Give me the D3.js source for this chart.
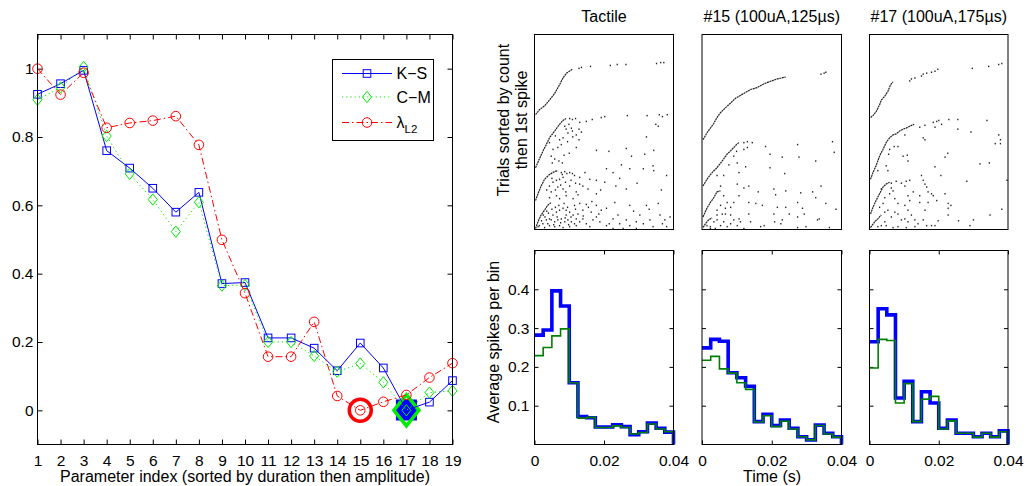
<!DOCTYPE html>
<html>
<head>
<meta charset="utf-8">
<script src="https://cdn.jsdelivr.net/npm/d3@7"></script>
<style>
  body { margin: 0; background: #fff; }
  svg { display: block; font-family: "Liberation Sans", Arial, sans-serif; }
</style>
</head>
<body>
<svg id="chart" width="1028" height="486"></svg>
<script>
// ---------- data: distance per stimulation parameter ----------
const paramIdx = d3.range(1, 20);
const ksVals = [0.925,0.956,0.995,0.760,0.709,0.650,0.580,0.638,0.371,0.374,0.212,0.212,0.182,0.116,0.197,0.124,0.001,0.024,0.087];
const cmVals = [0.909,0.945,1.005,0.803,0.692,0.617,0.523,0.609,0.365,0.367,0.200,0.200,0.159,0.113,0.137,0.082,0.000,0.052,0.057];
const l2Vals = [1.000,0.924,0.988,0.827,0.841,0.848,0.861,0.777,0.499,0.343,0.157,0.157,0.259,0.042,0.000,0.025,0.045,0.096,0.138];
const yTicks = [0, 0.2, 0.4, 0.6, 0.8, 1];

// ---------- data: PSTH, average spikes per bin (16 bins, 0-40 ms) ----------
const tactileBlue  = [0.282,0.295,0.396,0.357,0.159,0.072,0.069,0.045,0.045,0.051,0.046,0.025,0.033,0.055,0.042,0.032];
const tactileGreen = [0.229,0.250,0.280,0.298,0.159,0.068,0.070,0.044,0.044,0.048,0.044,0.027,0.031,0.053,0.040,0.033];
const p15Blue  = [0.249,0.271,0.266,0.185,0.172,0.150,0.059,0.078,0.049,0.063,0.042,0.020,0.012,0.050,0.029,0.020];
const p15Green = [0.217,0.227,0.195,0.184,0.159,0.142,0.058,0.074,0.046,0.060,0.040,0.020,0.012,0.049,0.027,0.019];
const p17Blue  = [0.265,0.350,0.334,0.120,0.163,0.059,0.136,0.107,0.042,0.063,0.029,0.029,0.020,0.029,0.020,0.035];
const p17Green = [0.197,0.271,0.268,0.107,0.157,0.059,0.117,0.124,0.040,0.061,0.029,0.029,0.019,0.029,0.019,0.033];
const histXTicks = [0, 0.02, 0.04];
const histYTicks = [0.1, 0.2, 0.3, 0.4];

// ---------- data: rasters, [time ms, trial] ----------
const tactileFronts = [
  [[0.3,118],[1.4,123],[2.9,127],[4.3,133],[5.8,140],[7.2,149],[8.2,156],[9.2,161],[10.9,165]],
  [[0.3,63],[1.4,72],[2.4,80],[3.4,87],[4.3,94],[5.8,101],[7.2,108],[8.2,112],[9.1,114]],
  [[0.3,29],[1.0,36],[1.9,44],[2.9,51],[4.3,56],[5.8,59],[6.7,60]],
  [[0.3,0],[1.0,7],[1.9,14],[2.9,19],[3.8,24],[4.8,27]]
];
const tactileSpikes = [
  [12.8,166],[13.5,167],[16.1,168],[21.8,169],[23.8,170],[26.3,170],[35.1,171],[36.3,172],[37.2,172],
  [10.1,114],[10.9,113],[11.8,114],[14.9,111],[16.6,113],[19.2,115],[20.2,116],[26.7,117],[32.4,117],[35.9,118],[36.8,116],[38.2,118],
  [8.7,106],[9.1,103],[9.9,108],[10.6,104],[12.8,103],[12.0,97],[8.2,94],[7.7,87],[6.7,84],[5.3,82],[4.3,89],[4.8,75],[5.8,72],[5.1,68],
  [8.0,68],[7.2,92],[9.6,99],[12.8,92],[12.0,84],[17.8,81],[21.4,80],[26.4,83],[32.2,95],[34.9,108],[35.6,106],[27.9,75],[34.3,81],
  [31.7,77],[13.0,110],[10.9,101],[6.0,96],[7.0,70],[9.5,90],[11.0,95],[10.0,78],[13.5,100],[8.5,76],
  [7.7,58],[8.7,59],[9.3,57],[10.1,58],[10.9,57],[11.5,55],[8.2,53],[7.2,51],[6.3,50],[5.3,48],[8.9,48],[4.3,44],[6.7,43],[8.2,41],
  [10.1,44],[13.0,53],[13.9,44],[15.4,41],[17.8,36],[20.7,62],[22.6,58],[25.0,66],[27.4,62],[31.3,62],[34.1,65],[34.3,60],[38.0,55],
  [23.4,44],[26.4,41],[17.8,50],[20.2,48],[12.0,38],[9.1,34],[6.3,34],[4.3,32],[4.8,38],[7.2,31],[11.1,31],[15.9,51],[13.0,46],
  [6.0,40],[7.5,45],[9.0,38],[10.5,50],[11.8,47],[5.0,52],[3.5,40],[8.0,56],[12.5,35],[14.5,58],[19.0,40],[24.5,52],[29.5,47],[36.5,40],
  [1.4,3],[2.4,5],[3.4,9],[4.3,10],[5.3,14],[6.3,17],[7.2,19],[8.2,21],[9.1,19],[10.1,17],[6.7,9],[7.7,10],[8.7,7],[9.6,9],[10.6,7],
  [11.1,14],[12.0,10],[4.3,3],[5.8,2],[7.2,3],[8.2,1],[10.1,2],[12.0,3],[13.0,7],[13.9,10],[14.9,5],[15.9,2],[16.8,9],[17.8,12],
  [18.8,7],[20.7,3],[22.6,10],[23.1,27],[24.5,5],[25.5,0],[26.4,9],[27.4,3],[29.3,7],[30.3,14],[31.3,5],[33.2,9],[34.1,2],[35.6,26],
  [36.1,14],[37.5,9],[38.0,2],[32.2,24],[27.4,24],[20.7,21],[17.8,24],[14.9,25],[13.0,26],[11.5,24],[2.9,1],[3.8,5],[4.8,9],[5.8,7],
  [9.1,14],[13.9,19],[16.3,17],[19.2,19],[22.6,0],[29.3,0],
  [1.0,2],[2.0,8],[3.0,12],[4.0,16],[5.0,20],[6.0,22],[7.0,24],[8.5,26],[9.5,22],[10.5,12],[11.5,5],[12.5,15],[3.5,18],[2.5,14],
  [5.5,4],[6.5,12],[7.5,6],[8.8,11],[9.8,4],[11.8,20],[14.0,13],[15.5,22],[18.5,15],[21.5,5],[24.0,14],[28.5,18],[33.0,20],[36.8,5],
  [39.0,12],[16.5,28]
];
const p15Fronts = [
  [[0.3,92],[1.4,99],[2.4,104],[3.4,109],[4.3,115],[5.3,120],[6.7,125],[8.2,130],[9.6,135],[10.6,137],[12.0,140],[13.9,144],[15.8,146],[17.8,150],[19.2,152],[21.6,155],[24.0,157]],
  [[0.3,44],[1.4,51],[2.9,58],[4.3,63],[5.8,70],[7.2,77],[8.6,82],[9.9,87],[10.6,89]],
  [[0.3,12],[1.4,21],[2.4,27],[3.4,32],[4.3,38],[5.3,39]],
  [[0.3,1],[1.0,5],[1.9,9],[2.9,11]]
];
const p15Spikes = [
  [34.1,160],[35.0,161],[35.5,162],
  [12.0,89],[13.0,90],[14.4,89],[13.0,84],[12.0,82],[9.9,80],[9.1,75],[18.2,85],[19.5,77],[23.0,74],[27.4,87],[27.8,74],[32.6,70],
  [37.4,90],[37.9,79],[7.7,66],[10.1,68],[10.6,58],[12.5,64],[19.5,63],[23.7,57],[6.2,55],[5.3,44],[4.3,55],
  [6.2,34],[7.2,27],[8.2,22],[6.7,21],[5.8,15],[4.3,14],[9.1,27],[10.6,34],[10.1,46],[13.4,44],[12.0,42],[16.1,38],[20.6,41],[21.1,35],
  [24.0,39],[28.3,37],[31.7,38],[32.6,32],[34.1,44],[13.4,27],[15.4,26],[17.3,24],[21.6,22],[24.0,22],[27.4,27],[28.8,21],[20.6,15],
  [25.0,15],[27.4,12],[29.3,15],[35.5,26],[38.4,20],
  [1.4,3],[2.4,2],[3.4,7],[4.3,9],[5.3,3],[6.2,7],[7.2,2],[8.2,5],[9.1,9],[10.1,3],[11.0,7],[4.3,19],[5.3,24],[6.7,15],[8.2,14],
  [13.4,15],[13.9,7],[16.8,2],[17.8,3],[20.8,7],[22.6,5],[23.0,9],[27.4,1],[29.8,2],[33.1,9],[33.6,10],[36.5,1],[2.4,0],[10.6,10],
  [12.0,0],[3.8,0]
];
const p17Fronts = [
  [[0.3,115],[1.0,117],[1.9,121],[2.9,128],[3.4,133],[4.4,137],[5.3,142],[6.1,149],[6.8,152]],
  [[0.3,51],[1.0,58],[1.9,65],[2.9,75],[3.9,82],[4.8,89],[5.8,94],[6.8,97],[7.7,98],[8.7,101],[9.7,103],[10.6,104],[11.6,106],[12.9,108]],
  [[0.3,15],[1.0,22],[1.9,29],[2.9,36],[3.9,43],[4.8,46],[5.8,48]],
  [[0.3,1],[1.5,7],[2.4,10],[3.4,14]]
];
const p17Spikes = [
  [11.6,153],[12.1,155],[13.1,156],[15.0,158],[15.5,160],[16.5,161],[17.9,162],[18.9,163],[19.7,165],[29.7,166],[34.4,168],[37.3,170],[38.2,171],
  [14.5,105],[16.0,107],[18.4,110],[19.4,111],[20.0,112],[18.9,105],[20.8,108],[22.9,113],[25.5,113],[25.5,103],[29.3,100],[33.9,112],
  [37.3,97],[37.8,92],[37.8,88],[36.3,88],[15.5,94],[16.0,92],[10.2,97],[8.2,85],[7.1,85],[5.8,82],[5.5,77],[9.7,75],[10.9,76],[11.1,70],
  [18.9,64],[21.8,74],[22.6,78],[20.6,55],[31.9,67],[34.6,68],[4.8,65],[5.3,60],[2.4,60],
  [6.3,47],[7.7,49],[9.2,47],[10.6,49],[11.6,50],[15.0,55],[15.5,50],[16.0,46],[16.5,43],[16.9,38],[17.9,36],[18.4,34],[6.3,42],[6.8,39],
  [5.8,36],[7.3,31],[11.1,34],[11.6,29],[14.5,34],[14.5,27],[22.7,26],[23.5,24],[22.7,21],[28.1,49],[39.7,50],[38.2,20],[16.9,27],
  [19.4,29],[21.8,36],[8.2,26],[10.2,24],[12.6,38],[4.4,32],[10.2,44],[3.4,41],
  [4.4,17],[5.3,19],[6.3,12],[7.3,17],[8.2,15],[9.2,9],[10.2,10],[11.1,7],[12.1,14],[13.1,9],[14.0,5],[15.5,9],[16.5,3],[17.9,3],
  [18.9,3],[19.8,8],[22.7,14],[25.7,8],[29.0,3],[30.0,9],[34.8,14],[2.4,2],[3.4,3],[4.8,3],[6.8,1],[8.2,2],[10.6,1],[13.1,2],[4.4,7],
  [2.9,22],[3.9,26],[11.1,19],[16.0,19]
];

// ---------- drawing ----------
const FONT = 16;
const TICK = 15.5;
const FAMILY = '"Liberation Sans", Arial, sans-serif';
const svg = d3.select("#chart");

function frame(g, x0, x1, y0, y1) {
  g.append("rect")
    .attr("x", x0).attr("y", y0).attr("width", x1 - x0).attr("height", y1 - y0)
    .attr("fill", "none").attr("stroke", "#000").attr("stroke-width", 1);
}
function tidy(sel) {
  sel.attr("font-size", TICK).attr("font-family", FAMILY);
  sel.select(".domain").remove();
  sel.selectAll(".tick line").attr("stroke", "#000");
  sel.selectAll(".tick text").attr("fill", "#000");
}
const fmt = d => d3.format("~g")(d);

function marker(g, type, cx, cy, s, color, sw, fill) {
  if (type === "square") {
    g.append("rect").attr("x", cx - s).attr("y", cy - s).attr("width", 2 * s).attr("height", 2 * s)
      .attr("fill", fill || "none").attr("stroke", color).attr("stroke-width", sw);
  } else if (type === "diamond") {
    const h = s * 1.25;
    g.append("path").attr("d", `M${cx},${cy - h}L${cx + s},${cy}L${cx},${cy + h}L${cx - s},${cy}Z`)
      .attr("fill", fill || "none").attr("stroke", color).attr("stroke-width", sw);
  } else {
    g.append("circle").attr("cx", cx).attr("cy", cy).attr("r", s)
      .attr("fill", fill || "none").attr("stroke", color).attr("stroke-width", sw);
  }
}

// ===== left panel =====
(function leftPanel() {
  const X0 = 37.5, X1 = 452.5, Y0 = 34.5, Y1 = 444.5;
  const x = d3.scaleLinear().domain([1, 19]).range([X0, X1]);
  const y = d3.scaleLinear().domain([-0.1, 1.1]).range([Y1, Y0]);
  const g = svg.append("g");

  g.append("g").attr("transform", `translate(0,${Y1})`)
    .call(d3.axisBottom(x).tickValues(paramIdx).tickSize(-5).tickPadding(10).tickFormat(d3.format("d"))).call(tidy);
  g.append("g").attr("transform", `translate(0,${Y0})`)
    .call(d3.axisTop(x).tickValues(paramIdx).tickSize(-5).tickFormat("")).call(tidy);
  g.append("g").attr("transform", `translate(${X0},0)`)
    .call(d3.axisLeft(y).tickValues(yTicks).tickSize(-5).tickPadding(4).tickFormat(fmt)).call(tidy);
  g.append("g").attr("transform", `translate(${X1},0)`)
    .call(d3.axisRight(y).tickValues(yTicks).tickSize(-5).tickFormat("")).call(tidy);

  const series = [
    { vals: ksVals, color: "#0000ff", dash: null, type: "square", s: 3.8, label: "K\u2212S" },
    { vals: cmVals, color: "#00ee00", dash: "1.2,3", type: "diamond", s: 4.5, label: "C\u2212M" },
    { vals: l2Vals, color: "#ff0000", dash: "7,3,1.5,3", type: "circle", s: 4.8, label: "\u03bb" }
  ];

  // minimum of each measure, highlighted
  const hl = g.append("g");
  const iKs = d3.minIndex(ksVals), iCm = d3.minIndex(cmVals), iL2 = d3.minIndex(l2Vals);
  marker(hl, "square", x(paramIdx[iKs]), y(ksVals[iKs]), 10, "#0000ff", 1, "#0000ff");
  marker(hl, "diamond", x(paramIdx[iCm]), y(cmVals[iCm]), 12.5, "#00ee00", 3.5);
  marker(hl, "circle", x(paramIdx[iL2]), y(l2Vals[iL2]), 11, "#ff0000", 3.5);

  const line = d3.line().x((d, i) => x(paramIdx[i])).y(d => y(d));
  series.forEach(s => {
    const sg = g.append("g");
    sg.append("path").attr("d", line(s.vals)).attr("fill", "none")
      .attr("stroke", s.color).attr("stroke-width", 1).attr("stroke-dasharray", s.dash);
    s.vals.forEach((v, i) => marker(sg, s.type, x(paramIdx[i]), y(v), s.s, s.color, 1));
  });

  frame(g, X0, X1, Y0, Y1);

  // legend
  const lg = g.append("g");
  lg.append("rect").attr("x", 332.5).attr("y", 59.5).attr("width", 101).attr("height", 81)
    .attr("fill", "#fff").attr("stroke", "#000").attr("stroke-width", 1);
  const rows = [73.5, 97, 122.5];
  series.forEach((s, i) => {
    const ry = rows[i];
    lg.append("line").attr("x1", 342).attr("x2", 392).attr("y1", ry).attr("y2", ry)
      .attr("stroke", s.color).attr("stroke-width", 1).attr("stroke-dasharray", s.dash);
    marker(lg, s.type, 367, ry, s.s, s.color, 1);
    const t = lg.append("text").attr("x", 396.5).attr("y", ry + 5.5)
      .attr("font-size", FONT).attr("fill", "#000").text(s.label);
    if (i === 2) t.append("tspan").attr("dy", 5).attr("font-size", 11.5).text("L2");
  });

  g.append("text").attr("x", (X0 + X1) / 2).attr("y", 482).attr("text-anchor", "middle")
    .attr("font-size", FONT).text("Parameter index (sorted by duration then amplitude)");
})();

// ===== right panels: raster above, PSTH below =====
const panels = [
  { title: "Tactile", x0: 534.5, x1: 673.5, fronts: tactileFronts, spikes: tactileSpikes, blue: tactileBlue, green: tactileGreen, yLabels: true },
  { title: "#15 (100uA,125\u00b5s)", x0: 702, x1: 841.5, fronts: p15Fronts, spikes: p15Spikes, blue: p15Blue, green: p15Green, yLabels: false },
  { title: "#17 (100uA,175\u00b5s)", x0: 869.5, x1: 1008, fronts: p17Fronts, spikes: p17Spikes, blue: p17Blue, green: p17Green, yLabels: false }
];
const NTRIALS = 200;
const binEdges = d3.range(17).map(i => i * 0.04 / 16);

panels.forEach(p => {
  const g = svg.append("g");

  // raster
  const RY0 = 34.5, RY1 = 229.5;
  const rx = d3.scaleLinear().domain([0, 40]).range([p.x0, p.x1]);
  const ry = d3.scaleLinear().domain([0, NTRIALS]).range([RY1 - 1, RY0 + 1]);
  const front = d3.line().x(d => rx(d[0])).y(d => ry(d[1]));
  p.fronts.forEach(f => {
    g.append("path").attr("d", front(f)).attr("fill", "none")
      .attr("stroke", "#222").attr("stroke-width", 1.2).attr("stroke-dasharray", "2,0.6");
  });
  g.append("g").selectAll("rect").data(p.spikes).join("rect")
    .attr("x", d => rx(d[0]) - 0.6).attr("y", d => ry(d[1]) - 0.7)
    .attr("width", 1.3).attr("height", 1.5).attr("fill", "#222");
  frame(g, p.x0, p.x1, RY0, RY1);
  g.append("text").attr("x", (p.x0 + p.x1) / 2).attr("y", 21.5).attr("text-anchor", "middle")
    .attr("font-size", FONT).text(p.title);

  // PSTH
  const HY0 = 250.5, HY1 = 444.5;
  const hx = d3.scaleLinear().domain([0, 0.04]).range([p.x0, p.x1]);
  const hy = d3.scaleLinear().domain([0, 0.5]).range([HY1, HY0]);
  g.append("g").attr("transform", `translate(0,${HY1})`)
    .call(d3.axisBottom(hx).tickValues(histXTicks).tickSize(-4).tickPadding(10).tickFormat(fmt)).call(tidy);
  g.append("g").attr("transform", `translate(0,${HY0})`)
    .call(d3.axisTop(hx).tickValues(histXTicks).tickSize(-4).tickFormat("")).call(tidy);
  g.append("g").attr("transform", `translate(${p.x0},0)`)
    .call(d3.axisLeft(hy).tickValues(histYTicks).tickSize(-4).tickPadding(5).tickFormat(p.yLabels ? fmt : "")).call(tidy);
  g.append("g").attr("transform", `translate(${p.x1},0)`)
    .call(d3.axisRight(hy).tickValues(histYTicks).tickSize(-4).tickFormat("")).call(tidy);

  const step = d3.line().x(d => hx(d[0])).y(d => hy(d[1])).curve(d3.curveStepAfter);
  const pts = vals => vals.map((v, i) => [binEdges[i], v]).concat([[0.04, vals[vals.length - 1]], [0.04, 0]]);
  g.append("path").attr("d", step(pts(p.blue))).attr("fill", "none")
    .attr("stroke", "#0000ff").attr("stroke-width", 3.6).attr("stroke-linejoin", "miter");
  g.append("path").attr("d", step(pts(p.green))).attr("fill", "none")
    .attr("stroke", "#008000").attr("stroke-width", 1.6);
  frame(g, p.x0, p.x1, HY0, HY1);
});

// shared labels
svg.append("text").attr("transform", "translate(499,342) rotate(-90)").attr("text-anchor", "middle")
  .attr("font-size", FONT).text("Average spikes per bin");
svg.append("text").attr("transform", "translate(509,120) rotate(-90)").attr("text-anchor", "middle")
  .attr("font-size", FONT).text("Trials sorted by count");
svg.append("text").attr("transform", "translate(527,120) rotate(-90)").attr("text-anchor", "middle")
  .attr("font-size", FONT).text("then 1st spike");
svg.append("text").attr("x", 772).attr("y", 482).attr("text-anchor", "middle")
  .attr("font-size", FONT).text("Time (s)");
</script>
</body>
</html>
